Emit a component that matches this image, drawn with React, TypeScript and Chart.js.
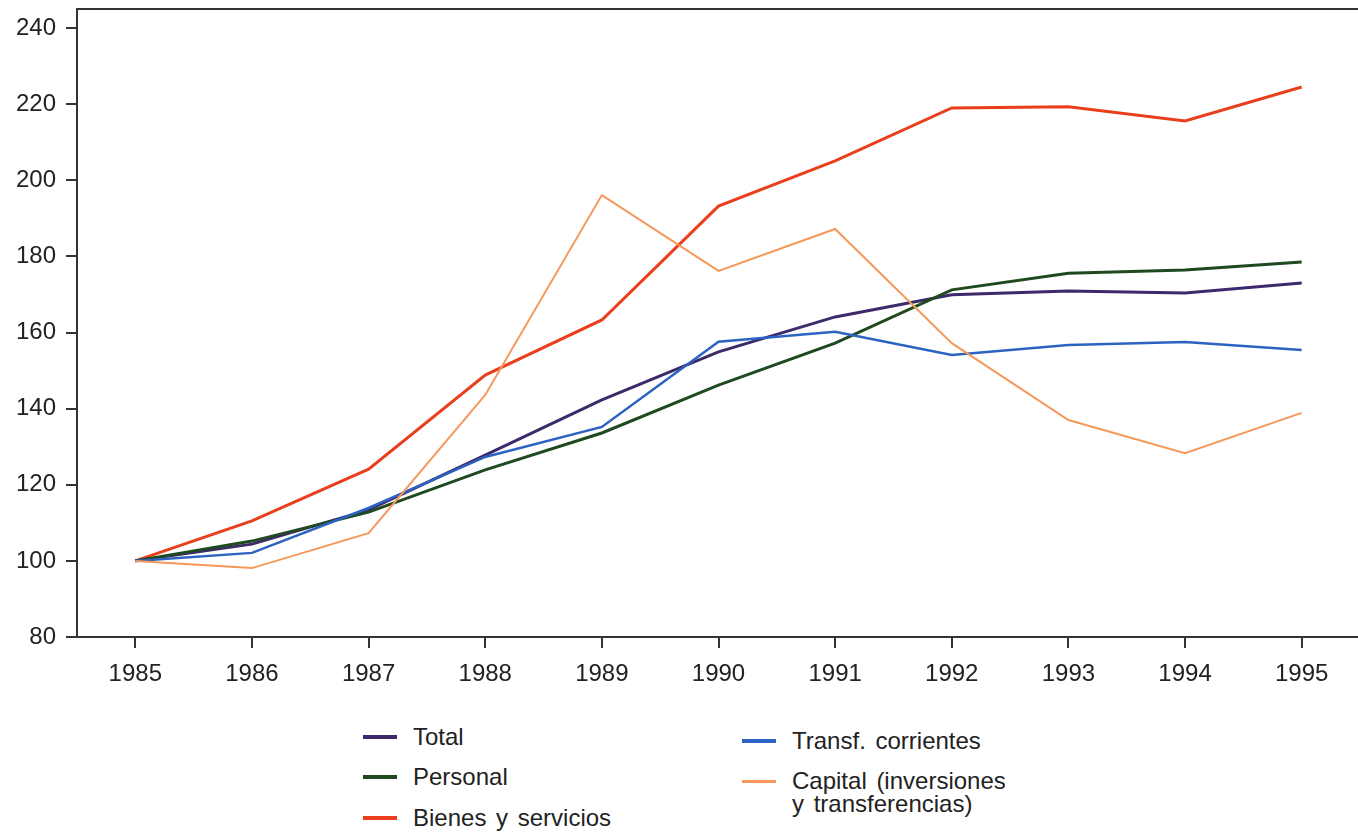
import React, { useEffect, useRef } from "react";
import { Chart, registerables } from "chart.js";

Chart.register(...registerables);

const years = ["1985", "1986", "1987", "1988", "1989", "1990", "1991", "1992", "1993", "1994", "1995"];
const total = [100, 104.4, 113.4, 127.8, 142.3, 154.9, 164.1, 169.9, 170.9, 170.4, 173];
const personal = [100, 105.2, 112.8, 123.9, 133.6, 146.2, 157.2, 171.2, 175.6, 176.4, 178.5];
const bienes = [100, 110.5, 124.1, 148.8, 163.3, 193.2, 205.1, 219, 219.3, 215.6, 224.5];
const transf = [100, 102.1, 113.9, 127.3, 135.2, 157.6, 160.2, 154.1, 156.7, 157.5, 155.4];
const capital = [100, 98.1, 107.3, 143.6, 196.1, 176.2, 187.2, 157.2, 137, 128.3, 138.9];
const yTicks = [80, 100, 120, 140, 160, 180, 200, 220, 240];

const COLORS = {
  total: "#3d2a6b",
  personal: "#1f4a1f",
  bienes: "#ea3f1c",
  transf: "#2c63c2",
  capital: "#f5985a",
};

const FONT = "'Liberation Sans', Arial, sans-serif";

const topFrame = {
  id: "topFrame",
  afterDraw(chart: any) {
    const { ctx, chartArea } = chart;
    ctx.save();
    ctx.strokeStyle = "#333";
    ctx.lineWidth = 2;
    ctx.beginPath();
    ctx.moveTo(chartArea.left, chartArea.top);
    ctx.lineTo(chartArea.right, chartArea.top);
    ctx.stroke();
    ctx.restore();
  },
};

export default function App() {
  const ref = useRef<HTMLCanvasElement | null>(null);
  useEffect(() => {
    if (!ref.current) return;
    const mk = (label: string, data: number[], color: string, w: number) => ({
      label,
      data,
      borderColor: color,
      backgroundColor: color,
      borderWidth: w,
      pointRadius: 0,
      tension: 0,
      fill: false,
    });
    const chart = new Chart(ref.current, {
      type: "line",
      data: {
        labels: years,
        datasets: [
          mk("Capital (inversiones y transferencias)", capital, COLORS.capital, 2),
          mk("Transf. corrientes", transf, COLORS.transf, 2.5),
          mk("Personal", personal, COLORS.personal, 3),
          mk("Total", total, COLORS.total, 3),
          mk("Bienes y servicios", bienes, COLORS.bienes, 3),
        ],
      },
      options: {
        animation: false,
        responsive: false,
        maintainAspectRatio: false,
        layout: { padding: { top: 9, right: 0, left: 0, bottom: 0 } },
        plugins: { legend: { display: false }, tooltip: { enabled: false } },
        scales: {
          x: {
            offset: true,
            grid: {
              display: true,
              drawOnChartArea: false,
              drawTicks: true,
              tickLength: 11,
              color: "#333",
              lineWidth: 2,
              offset: false,
            },
            border: { display: true, color: "#333", width: 2 },
            ticks: {
              color: "#222",
              font: { family: FONT, size: 24 },
              padding: 12,
              maxRotation: 0,
              autoSkip: false,
            },
            afterFit(scale: any) {
              scale.height = 63;
              scale.paddingLeft = 0;
              scale.paddingRight = 0;
            },
          },
          y: {
            min: 80,
            max: 245,
            grid: {
              display: true,
              drawOnChartArea: false,
              drawTicks: true,
              tickLength: 11,
              color: "#333",
              lineWidth: 2,
            },
            border: { display: true, color: "#333", width: 2 },
            ticks: {
              color: "#222",
              font: { family: FONT, size: 24 },
              padding: 10,
              stepSize: 20,
            },
            afterBuildTicks(scale: any) {
              scale.ticks = yTicks.map((v) => ({ value: v }));
            },
            afterFit(scale: any) {
              scale.width = 77;
              scale.paddingTop = 0;
              scale.paddingBottom = 0;
            },
          },
        },
      },
      plugins: [topFrame],
    });
    return () => chart.destroy();
  }, []);

  const legendText: React.CSSProperties = {
    position: "absolute",
    fontFamily: FONT,
    fontSize: 24,
    color: "#222",
    lineHeight: "23px",
    whiteSpace: "nowrap",
    wordSpacing: 3,
  };
  const sample = (x: number, y: number, color: string, h: number) => (
    <div
      style={{
        position: "absolute",
        left: x,
        top: y - h / 2,
        width: 34,
        height: h,
        background: color,
      }}
    />
  );

  return (
    <div
      style={{
        position: "fixed",
        left: 0,
        top: 0,
        width: 1358,
        height: 834,
        background: "#fff",
        overflow: "hidden",
      }}
    >
      <canvas ref={ref} width={1360} height={700} style={{ position: "absolute", left: 0, top: 0 }} />
      {sample(363, 737, COLORS.total, 4)}
      <div style={{ ...legendText, left: 413, top: 737 - 12 }}>Total</div>
      {sample(363, 777, COLORS.personal, 4)}
      <div style={{ ...legendText, left: 413, top: 777 - 12 }}>Personal</div>
      {sample(363, 818, COLORS.bienes, 4)}
      <div style={{ ...legendText, left: 413, top: 818 - 12 }}>Bienes y servicios</div>
      {sample(742, 741, COLORS.transf, 4)}
      <div style={{ ...legendText, left: 792, top: 741 - 12 }}>Transf. corrientes</div>
      {sample(742, 781, COLORS.capital, 3)}
      <div style={{ ...legendText, left: 792, top: 781 - 12 }}>
        Capital (inversiones
        <br />y transferencias)
      </div>
    </div>
  );
}
